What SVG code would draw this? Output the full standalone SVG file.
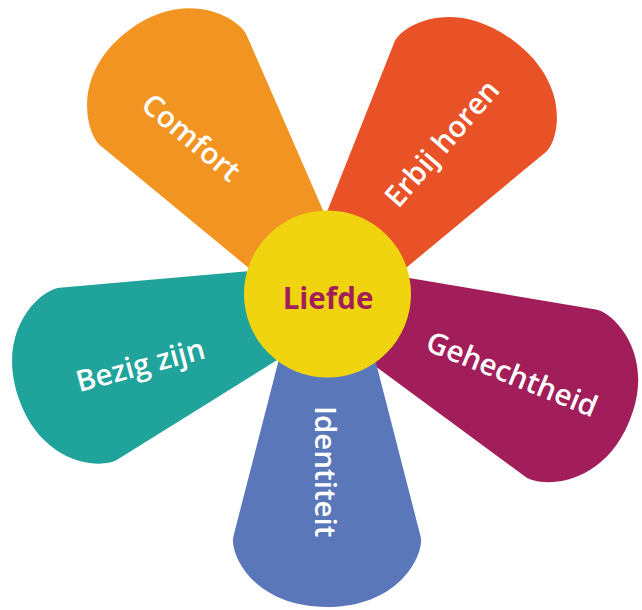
<svg xmlns="http://www.w3.org/2000/svg" xmlns:xlink="http://www.w3.org/1999/xlink" width="642" height="610" viewBox="0 0 642 610">
  <style>
    .lbl { font-family: "Open Sans", "Liberation Sans", sans-serif; font-weight: 600; font-size: 29.5px; fill: #ffffff; text-anchor: middle; dominant-baseline: central; }
    .core { font-family: "Open Sans", "Liberation Sans", sans-serif; font-weight: 700; font-size: 29.5px; fill: #A11E5A; text-anchor: middle; dominant-baseline: central; }
  </style>
  <defs>
    <path id="petal" d="M 30 -39 L 242 -93.5 C 258 -98 313 -75 313 0 C 313 75 258 98 242 93.5 L 30 39 Z"/>
  </defs>
  <rect width="642" height="610" fill="#ffffff"/>
  <g id="comfort">
    <use xlink:href="#petal" href="#petal" fill="#F29421" transform="translate(327 294) rotate(-127) scale(1.054 0.98)"/>
    <text class="lbl" transform="translate(192 136.5) rotate(40)">Comfort</text>
  </g>
  <g id="erbij-horen">
    <use xlink:href="#petal" href="#petal" fill="#E85226" transform="translate(327 294) rotate(-54) scale(1.005 1)"/>
    <text class="lbl" transform="translate(441 142.5) rotate(-49)">Erbij horen</text>
  </g>
  <g id="gehechtheid">
    <use xlink:href="#petal" href="#petal" fill="#A11E5A" transform="translate(327 294) rotate(23) scale(1.048 0.97)"/>
    <text class="lbl" transform="translate(512.5 373) rotate(22)">Gehechtheid</text>
  </g>
  <g id="identiteit">
    <use xlink:href="#petal" href="#petal" fill="#5977B9" transform="translate(327 294) rotate(90)"/>
    <text class="lbl" transform="translate(326.3 471.7) rotate(90)">Identiteit</text>
  </g>
  <g id="bezig-zijn">
    <use xlink:href="#petal" href="#petal" fill="#20A39B" transform="translate(327 294) rotate(161.5) scale(1.04 0.97)"/>
    <text class="lbl" transform="translate(140 364) rotate(-15)">Bezig zijn</text>
  </g>
  <g id="liefde">
    <circle cx="327.5" cy="294" r="83.5" fill="#F1D410"/>
    <text class="core" x="328" y="297">Liefde</text>
  </g>
</svg>
